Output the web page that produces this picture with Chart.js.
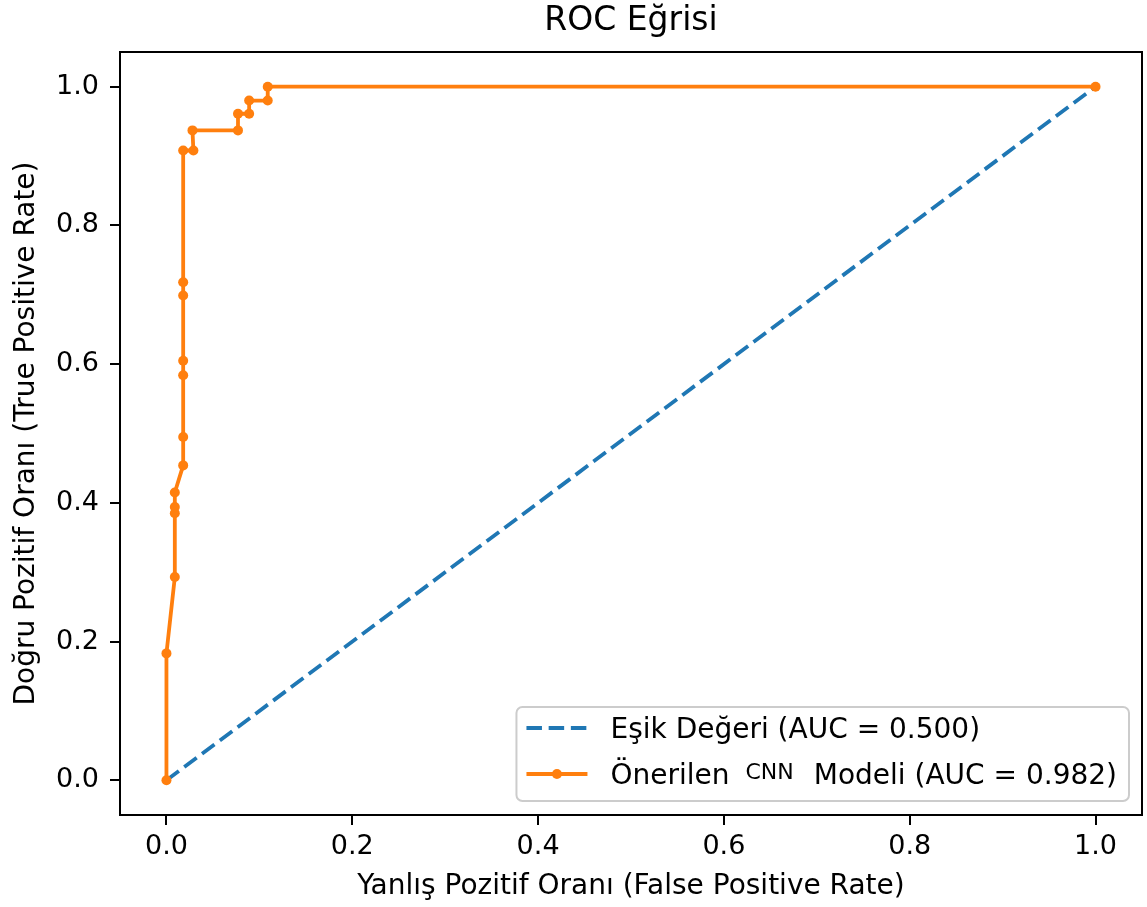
<!DOCTYPE html>
<html>
<head>
<meta charset="utf-8">
<script src="https://cdn.jsdelivr.net/npm/chart.js@4/dist/chart.umd.min.js"></script>
<style>
html,body{margin:0;padding:0;background:#ffffff;}
#wrap{width:1147px;height:907px;position:relative;}
</style>
</head>
<body>
<div id="wrap"><canvas id="c" width="1147" height="907"></canvas></div>
<script>
// ---- data ----
const chartTitle = 'ROC Eğrisi';
const xAxisTitle = 'Yanlış Pozitif Oranı (False Positive Rate)';
const yAxisTitle = 'Doğru Pozitif Oranı (True Positive Rate)';
const xTicks = [0.0, 0.2, 0.4, 0.6, 0.8, 1.0];
const yTicks = [0.0, 0.2, 0.4, 0.6, 0.8, 1.0];

const baselineLabel = 'Eşik Değeri (AUC = 0.500)';
const baselineFpr = [0.0, 1.0];
const baselineTpr = [0.0, 1.0];

const modelLabel = 'Önerilen CNN Modeli (AUC = 0.982)';
const modelFpr = [0.0, 0.0, 0.009, 0.009, 0.009, 0.009, 0.018, 0.018, 0.018, 0.018, 0.018, 0.018, 0.018, 0.029, 0.028, 0.077, 0.077, 0.089, 0.089, 0.109, 0.109, 1.0];
const modelTpr = [0.0, 0.183, 0.293, 0.385, 0.394, 0.415, 0.454, 0.495, 0.584, 0.605, 0.699, 0.718, 0.908, 0.908, 0.937, 0.937, 0.961, 0.961, 0.980, 0.980, 1.0, 1.0];

const toPoints = (xs, ys) => xs.map((x, i) => ({ x: x, y: ys[i] }));

const BLUE = '#1f77b4';
const ORANGE = '#ff7f0e';
const FONT = '"DejaVu Sans", "Liberation Sans", sans-serif';

// frame (matplotlib spines)
const framePlugin = {
  id: 'frame',
  afterDatasetsDraw(chart) {
    const { ctx, chartArea: a } = chart;
    ctx.save();
    ctx.strokeStyle = '#000';
    ctx.lineWidth = 2;
    ctx.strokeRect(a.left, a.top, a.right - a.left, a.bottom - a.top);
    ctx.restore();
  }
};

// matplotlib-like legend (lower right, with superscript "CNN")
function drawLabel(ctx, text, x, baseY, draw) {
  const big = '28px ' + FONT, small = '22px ' + FONT;
  const idx = text.indexOf('CNN');
  if (idx < 0) {
    ctx.font = big;
    if (draw) ctx.fillText(text, x, baseY);
    return ctx.measureText(text).width;
  }
  const pre = text.slice(0, idx).trimEnd();
  const post = text.slice(idx + 3).trimStart();
  let cx = x;
  ctx.font = big;
  if (draw) ctx.fillText(pre, cx, baseY);
  cx += ctx.measureText(pre).width + 16;
  ctx.font = small;
  if (draw) ctx.fillText('CNN', cx, baseY - 5);
  cx += ctx.measureText('CNN').width + 20;
  ctx.font = big;
  if (draw) ctx.fillText(post, cx, baseY);
  cx += ctx.measureText(post).width;
  return cx - x;
}

const legendPlugin = {
  id: 'mplLegend',
  afterDraw(chart) {
    const { ctx, chartArea: a } = chart;
    const ds = chart.data.datasets;
    ctx.save();
    let maxW = 0;
    ds.forEach(d => { maxW = Math.max(maxW, drawLabel(ctx, d.label, 0, 0, false)); });
    const w = 10 + 61 + 23 + maxW + 12;
    const h = 94;
    const right = a.right - 13, bottom = a.bottom - 14;
    const left = right - w, top = bottom - h;
    const r = 6;
    ctx.beginPath();
    ctx.moveTo(left + r, top);
    ctx.lineTo(right - r, top);
    ctx.arcTo(right, top, right, top + r, r);
    ctx.lineTo(right, bottom - r);
    ctx.arcTo(right, bottom, right - r, bottom, r);
    ctx.lineTo(left + r, bottom);
    ctx.arcTo(left, bottom, left, bottom - r, r);
    ctx.lineTo(left, top + r);
    ctx.arcTo(left, top, left + r, top, r);
    ctx.closePath();
    ctx.fillStyle = 'rgba(255,255,255,0.8)';
    ctx.fill();
    ctx.strokeStyle = '#cccccc';
    ctx.lineWidth = 2;
    ctx.stroke();

    const rows = [top + 21, top + 67];
    ds.forEach((d, i) => {
      const y = rows[i];
      const hx0 = left + 10, hx1 = left + 71;
      ctx.save();
      ctx.strokeStyle = d.borderColor;
      ctx.lineWidth = d.borderWidth;
      ctx.setLineDash(d.borderDash || []);
      ctx.beginPath();
      ctx.moveTo(hx0, y);
      ctx.lineTo(hx1, y);
      ctx.stroke();
      ctx.restore();
      if (d.pointRadius > 0) {
        ctx.beginPath();
        ctx.fillStyle = d.borderColor;
        ctx.arc((hx0 + hx1) / 2, y, d.pointRadius, 0, Math.PI * 2);
        ctx.fill();
      }
      ctx.fillStyle = '#000';
      ctx.textAlign = 'left';
      ctx.textBaseline = 'alphabetic';
      drawLabel(ctx, d.label, left + 94, y + 10, true);
    });
    ctx.restore();
  }
};

const setTicks = (vals) => (scale) => { scale.ticks = vals.map(v => ({ value: v })); };

new Chart(document.getElementById('c'), {
  type: 'line',
  data: {
    datasets: [
      {
        label: baselineLabel,
        data: toPoints(baselineFpr, baselineTpr),
        borderColor: BLUE,
        backgroundColor: BLUE,
        borderWidth: 3.8,
        borderDash: [15.5, 6.7],
        pointRadius: 0,
        tension: 0,
        fill: false,
        order: 1
      },
      {
        label: modelLabel,
        data: toPoints(modelFpr, modelTpr),
        borderColor: ORANGE,
        backgroundColor: ORANGE,
        borderWidth: 3.8,
        pointRadius: 5,
        pointBorderWidth: 0,
        pointBackgroundColor: ORANGE,
        tension: 0,
        fill: false,
        order: 0
      }
    ]
  },
  options: {
    responsive: false,
    animation: false,
    devicePixelRatio: 1,
    layout: { padding: { left: 0, right: 3, top: 0, bottom: 0 } },
    plugins: {
      legend: { display: false },
      tooltip: { enabled: false },
      title: {
        display: true,
        text: chartTitle,
        fullSize: false,
        color: '#000',
        font: { family: FONT, size: 33, weight: 'normal', lineHeight: 1.2 },
        padding: { top: 2, bottom: 10.4 }
      }
    },
    scales: {
      x: {
        type: 'linear',
        min: -0.05,
        max: 1.05,
        afterBuildTicks: setTicks(xTicks),
        afterFit: (s) => { s.height = 92; },
        border: { display: false },
        grid: { display: true, drawOnChartArea: false, drawTicks: true, tickLength: 10, color: '#000', lineWidth: 2 },
        ticks: {
          color: '#000', font: { family: FONT, size: 27 }, padding: 6, maxRotation: 0, autoSkip: false,
          callback: (v) => Number(v).toFixed(1)
        },
        title: {
          display: true, text: xAxisTitle, color: '#000',
          font: { family: FONT, size: 28, lineHeight: 1.2 },
          padding: { top: 0, bottom: 3 }
        }
      },
      y: {
        type: 'linear',
        min: -0.05,
        max: 1.05,
        afterBuildTicks: setTicks(yTicks),
        afterFit: (s) => { s.width = 120; },
        border: { display: false },
        grid: { display: true, drawOnChartArea: false, drawTicks: true, tickLength: 10, color: '#000', lineWidth: 2 },
        ticks: {
          color: '#000', font: { family: FONT, size: 27 }, padding: 11, autoSkip: false,
          callback: (v) => Number(v).toFixed(1)
        },
        title: {
          display: true, text: yAxisTitle, color: '#000',
          font: { family: FONT, size: 28, lineHeight: 1.2 },
          padding: { top: 10, bottom: 0 }
        }
      }
    }
  },
  plugins: [framePlugin, legendPlugin]
});
</script>
</body>
</html>
